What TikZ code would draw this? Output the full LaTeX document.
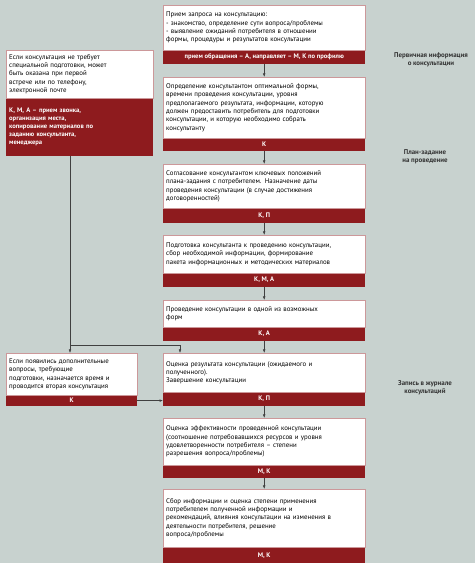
\documentclass[tikz,border=0pt]{standalone}
\usepackage{fontspec}
\setmainfont{PT Sans}
\usetikzlibrary{arrows.meta,positioning}

\definecolor{bgcol}{HTML}{C8D2CF}
\definecolor{boxred}{HTML}{8E1B1E}

\newcommand\boxfont{\fontsize{6.85}{8.3}\selectfont}
\newcommand\barfont{\fontsize{6.6}{8}\selectfont\bfseries}
\newcommand\lblfont{\fontsize{6.9}{8.4}\selectfont\bfseries}

\begin{document}
\begin{tikzpicture}[x=1pt,y=1pt,
    note/.style={draw=boxred!45,fill=white,inner sep=3pt,align=left,
                 anchor=north west,font=\boxfont,text width=196pt},
    bar/.style={fill=boxred,text=white,inner sep=1pt,anchor=north,
                font=\barfont,minimum width=202pt},
    lbl/.style={align=center,font=\lblfont,text=black!80},
    arr/.style={draw=black!75,line width=0.5pt,-{Latex[length=3.5pt,width=2.6pt]}},
    line/.style={draw=black!75,line width=0.5pt}]
        \fill[bgcol] (0,0) rectangle (475,563);
        \useasboundingbox (0,0) rectangle (475,563);

        % main column
        \node[note,minimum height=45pt] (b1) at (163,558)
              {Прием запроса на консультацию:\\
               - знакомство, определение сути вопроса/проблемы\\
               - выявление ожиданий потребителя в отношении\\
               формы, процедуры и результатов консультации};
        \node[bar,minimum height=13pt] (b1r) at (b1.south)
              {прием обращения – А, направляет – М, К по профилю};

        \node[note,minimum height=61pt] (b2) at (163,486)
              {Определение консультантом оптимальной формы,\\
               времени проведения консультации, уровня\\
               предполагаемого результата, информации, которую\\
               должен предоставить потребитель для подготовки\\
               консультации, и которую необходимо собрать\\
               консультанту};
        \node[bar,minimum height=12pt] (b2r) at (b2.south) {К};

        \node[note,minimum height=44pt] (b3) at (163,399)
              {Согласование консультантом ключевых положений\\
               плана-задания с потребителем. Назначение даты\\
               проведения консультации (в случае достижения\\
               договоренностей)};
        \node[bar,minimum height=14pt] (b3r) at (b3.south) {К, П};

        \node[note,minimum height=38pt] (b4) at (163,328)
              {Подготовка консультанта к проведению консультации,\\
               сбор необходимой информации, формирование\\
               пакета информационных и методических материалов};
        \node[bar,minimum height=13pt] (b4r) at (b4.south) {К, М, А};

        \node[note,minimum height=27pt] (b5) at (163,263)
              {Проведение консультации в одной из возможных\\
               форм};
        \node[bar,minimum height=13pt] (b5r) at (b5.south) {К, А};

        \node[note,minimum height=39pt] (b6) at (163,210)
              {Оценка результата консультации (ожидаемого и\\
               полученного).\\
               Завершение консультации};
        \node[bar,minimum height=13pt] (b6r) at (b6.south) {К, П};

        \node[note,minimum height=47pt] (b7) at (163,145)
              {Оценка эффективности проведенной консультации\\
               (соотношение потребовавшихся ресурсов и уровня\\
               удовлетворенности потребителя – степени\\
               разрешения вопроса/проблемы)};
        \node[bar,minimum height=12pt] (b7r) at (b7.south) {М, К};

        \node[note,minimum height=58pt] (b8) at (163,74)
              {Сбор информации и оценка степени применения\\
               потребителем полученной информации и\\
               рекомендаций, влияния консультации на изменения в\\
               деятельности потребителя, решение\\
               вопроса/проблемы};
        \node[bar,minimum height=16pt] (b8r) at (b8.south) {М, К};

        % left column
        \node[note,minimum height=48pt,text width=141pt] (l1) at (6,513)
              {Если консультация не требует\\
               специальной подготовки, может\\
               быть оказана при первой\\
               встрече или по телефону,\\
               электронной почте};
        \node[bar,minimum height=57pt,minimum width=147pt,text width=141pt,
              align=left,inner sep=3pt] (l1r) at (l1.south)
              {К, М, А – прием звонка,\\
               организация места,\\
               копирование материалов по\\
               заданию консультанта,\\
               менеджера};

        \node[note,minimum height=42pt,text width=125pt] (l2) at (6,210)
              {Если появились дополнительные\\
               вопросы, требующие\\
               подготовки, назначается время и\\
               проводится вторая консультация};
        \node[bar,minimum height=10pt,minimum width=131pt] (l2r) at (l2.south) {К};

        % side labels
        \node[lbl] (t1) at (431,503) {Первичная информация\\о консультации};
        \node[lbl] (t2) at (425,406) {План-задание\\на проведение};
        \node[lbl] (t3) at (425,175) {Запись в журнале\\консультаций};

        % connectors
        \foreach \i/\j in {1/2,2/3,3/4,4/5,5/6,6/7,7/8}
          \draw[arr] (b\i r.south) -- (b\j.north);

        \coordinate (jn) at (70,218);
        \coordinate (b6in) at (180,210);
        \draw[line] (l1r.south -| jn) -- (jn);
        \draw[arr] (jn) -- (l2.north -| jn);
        \draw[arr] (jn) -| (b6in);
        \draw[arr] (l2r.east) -- (l2r.east -| b6r.west);
      \end{tikzpicture}
\end{document}
